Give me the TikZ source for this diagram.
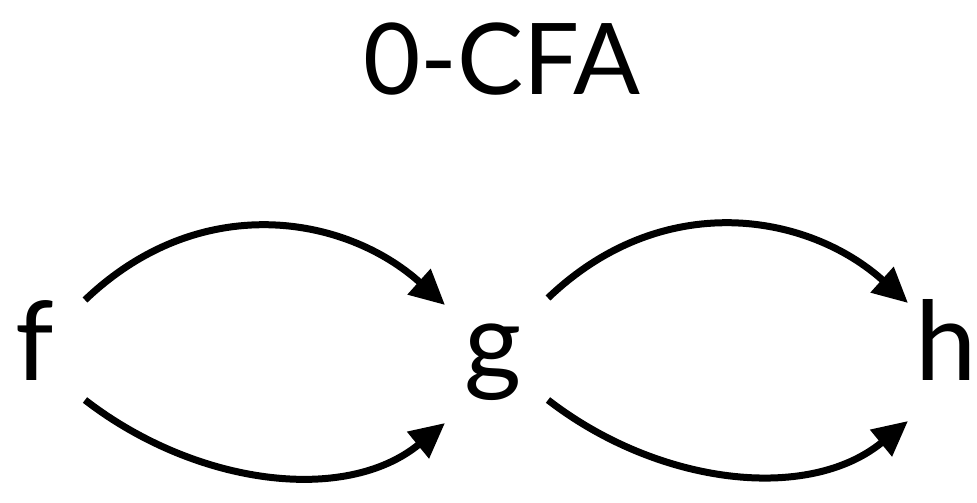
\documentclass[tikz,border=0pt]{standalone}
\usepackage{fontspec}
\setmainfont{Lato}
\usetikzlibrary{arrows.meta}
\begin{document}
\begin{tikzpicture}[x=1pt,y=-1pt,
  lbl/.style={inner sep=0pt,anchor=base,font=\fontsize{110}{110}\selectfont},
  ttl/.style={inner sep=0pt,anchor=base,font=\fontsize{99}{99}\selectfont},
  arr/.style={line width=7pt,-{Triangle[length=35pt,width=33pt]}}]
\useasboundingbox (0,0) rectangle (977,503);
\node[ttl] (title) at (502,94) {0-CFA};
\node[lbl] (f) at (35,380) {f};
\node[lbl] (g) at (493,380) {g};
\node[lbl] (h) at (946,380) {h};
\coordinate (f1) at (85,300);
\coordinate (f2) at (85,400);
\coordinate (g1) at (445,305);
\coordinate (g2) at (445,423);
\coordinate (g3) at (548,298);
\coordinate (g4) at (548,400);
\coordinate (h1) at (908,303);
\coordinate (h2) at (908,421);
\draw[arr] (f1) .. controls (200,190) and (345,215) .. (g1);
\draw[arr] (f2) .. controls (195,485) and (345,505) .. (g2);
\draw[arr] (g3) .. controls (663,188) and (808,213) .. (h1);
\draw[arr] (g4) .. controls (658,485) and (808,503) .. (h2);
\end{tikzpicture}
\end{document}
